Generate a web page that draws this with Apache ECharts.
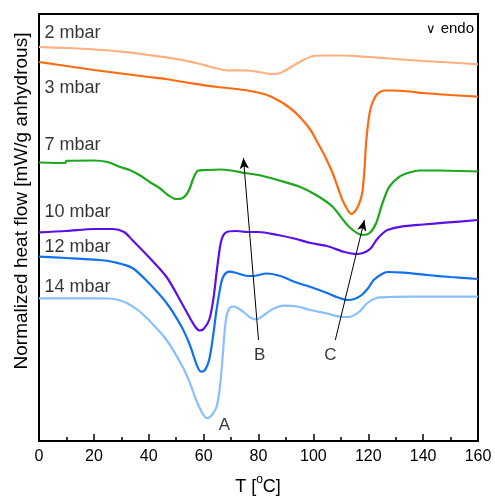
<!DOCTYPE html>
<html>
<head>
<meta charset="utf-8">
<script src="https://cdn.jsdelivr.net/npm/echarts@6/dist/echarts.min.js"></script>
<style>
  html, body { margin: 0; padding: 0; background: #fff; }
  #chart { width: 495px; height: 501px; }
</style>
</head>
<body>
<div id="chart"></div>
<script>
// temperature [°C] and heat flow (arbitrary units)
var t2 = [0, 10, 20, 30, 40, 51, 58, 64, 69, 72, 76, 80, 85, 88, 91, 95, 100, 105, 110, 120, 130, 140, 150, 160];
var h2 = [394, 393, 391.5, 389.3, 386, 381.7, 377.5, 373, 370.5, 370.7, 370.5, 369, 367, 368, 372.5, 379, 385, 385.5, 385.5, 384, 382, 380, 378.5, 376.7];

var t3 = [0, 5, 10, 20, 30, 40, 46, 55, 65, 75, 82, 87, 91, 95, 99, 101, 104, 107, 109, 110.6, 112.5, 113.8, 115, 116.5, 117.8, 118.6, 119.2, 120.2, 121, 122.5, 124, 126, 128, 135, 140, 150, 160];
var h3 = [379, 377, 375, 371, 367.5, 364, 362, 358, 354, 351, 347, 341, 334, 324.3, 311, 301, 286, 268, 253, 241, 231, 227, 229, 236, 248, 271, 298, 323, 334.3, 344, 348.7, 350.5, 350.5, 349.5, 348, 346, 344.3];

var t7 = [0, 9.6, 10, 20, 25, 29.3, 33, 36.6, 40.3, 43.9, 47, 50, 52, 53.6, 55, 56, 57, 57.8, 61, 66, 70, 75, 80, 87, 95, 101, 107, 113, 118, 120.5, 122.9, 125.2, 127.7, 131.4, 135, 138.7, 145, 160];
var h7 = [278.5, 278, 280.2, 280.5, 279, 274.3, 271, 266, 259, 253, 246, 242, 242.5, 246, 253, 261, 267, 270.3, 271, 271.5, 270.5, 268, 266, 261, 254.3, 246, 234.3, 214.3, 206, 208, 218, 238, 254.3, 264.3, 268.5, 270.5, 270.5, 269.5];

var t10 = [0, 10, 20, 27, 31, 34, 40, 46.5, 52, 55, 57, 58.5, 60, 62, 63.5, 64.7, 65.8, 66.5, 67.5, 69, 72, 76, 80, 87, 93, 99, 105, 111, 116, 119, 121, 123, 125, 127, 132, 140, 148, 160];
var h10 = [208.7, 210, 212, 212, 209, 201, 184, 164, 138, 123, 114, 110.5, 112, 121, 141, 168, 191, 201, 207, 209.5, 210, 209, 209, 206, 202.5, 198, 195, 189.3, 187, 189, 193, 201, 207, 211, 214.3, 216.5, 218.3, 221];

var t12 = [0, 10, 22, 27, 34, 40, 46.5, 52, 55, 57.5, 59, 60.5, 62, 63.5, 64.7, 66.4, 67.5, 69.4, 72, 76, 78, 83, 88, 93, 99, 105, 109, 112.5, 115, 117.6, 120, 122, 125, 127, 133, 141.6, 150, 160];
var h12 = [184.3, 183, 181, 179, 173, 158, 138, 114, 96, 76, 69.3, 71, 81, 106, 131, 158, 166, 169.3, 168, 165, 165, 167.5, 165, 159.3, 154, 148, 143.5, 141, 142, 146, 153, 161, 167, 169, 168.3, 166, 164, 162];

var t14 = [0, 10, 20, 25.7, 29, 32, 36, 40, 46.5, 52.4, 55, 57.3, 59.5, 61.3, 63, 64.7, 65.8, 66.7, 67.6, 68.3, 69.4, 71, 73, 75, 77, 79.2, 81, 83, 86, 89.5, 94, 99, 105, 111, 113, 115, 117, 119.7, 123, 128, 135.7, 160];
var h14 = [142.7, 142.7, 142.7, 142.5, 141, 138, 131, 121, 101, 74, 58, 41, 28, 22.7, 26, 34, 51, 76, 108, 124, 132.7, 134.5, 132, 128, 123.5, 121.5, 124, 128, 133, 135.3, 134.5, 131, 127.5, 124, 124, 126, 130, 138, 143, 144, 144.3, 144.3];

var seriesNames = ['2 mbar', '3 mbar', '7 mbar', '10 mbar', '12 mbar', '14 mbar'];
var seriesColors = ['#FFB080', '#FF6A10', '#1CA81C', '#5A10E8', '#1070F0', '#88C0FF'];
var seriesT = [t2, t3, t7, t10, t12, t14];
var seriesH = [h2, h3, h7, h10, h12, h14];
// where each pressure label sits [T, heat flow]
var labelPos = [[2, 408], [2, 353], [2, 296], [2, 229], [2, 194], [2, 154]];

// annotation arrows: [from, to] and letters
var arrowB = [[80, 101], [74.5, 283]];
var arrowC = [[108, 101], [118.6, 221]];
var letters = ['A', 'B', 'C'];
var letterPos = [[67.6, 16], [80.4, 86], [106.2, 86]];

var xTicks = [0, 20, 40, 60, 80, 100, 120, 140, 160];

var chart = echarts.init(document.getElementById('chart'));
var font = 'Liberation Sans, Arial, sans-serif';

function zip(a, b) {
    var out = [];
    for (var i = 0; i < a.length; i++) out.push([a[i], b[i]]);
    return out;
}

var series = seriesNames.map(function (name, i) {
    return {
        name: name,
        type: 'line',
        data: zip(seriesT[i], seriesH[i]),
        showSymbol: false,
        smooth: 0.3,
        lineStyle: { color: seriesColors[i], width: 2.2 },
        itemStyle: { color: seriesColors[i] },
        silent: true,
        z: 3
    };
});

series.push({
    name: 'arrows',
    type: 'line',
    data: [],
    silent: true,
    markLine: {
        silent: true,
        symbol: ['none', 'arrow'],
        symbolSize: [7, 11],
        label: { show: false },
        lineStyle: { color: '#000', width: 1, type: 'solid' },
        data: [
            [{ coord: arrowB[0] }, { coord: arrowB[1] }],
            [{ coord: arrowC[0] }, { coord: arrowC[1] }]
        ]
    }
});

series.push({
    name: 'letters',
    type: 'scatter',
    data: letterPos.map(function (p, i) { return { value: p, name: letters[i] }; }),
    symbolSize: 0,
    silent: true,
    label: {
        show: true,
        position: 'inside',
        formatter: '{b}',
        color: '#000',
        fontSize: 17,
        fontFamily: font
    }
});

series.push({
    name: 'pressures',
    type: 'scatter',
    data: labelPos.map(function (p, i) { return { value: p, name: seriesNames[i] }; }),
    symbolSize: 0,
    silent: true,
    label: {
        show: true,
        position: 'right',
        distance: 0,
        formatter: '{b}',
        color: '#000',
        fontSize: 18,
        fontFamily: font
    }
});

var option = {
    animation: false,
    backgroundColor: '#fff',
    grid: {
        left: 39, right: 17, top: 14, bottom: 60,
        show: true,
        borderColor: '#000',
        borderWidth: 2,
        backgroundColor: 'transparent'
    },
    xAxis: {
        type: 'value',
        min: 0,
        max: 160,
        interval: 20,
        axisLine: { show: true, lineStyle: { color: '#000', width: 2 } },
        axisTick: { show: true, inside: true, length: 7, lineStyle: { color: '#000', width: 1.5 } },
        minorTick: { show: true, splitNumber: 2, length: 4, lineStyle: { color: '#000', width: 1.5 } },
        splitLine: { show: false },
        axisLabel: {
            color: '#000',
            fontSize: 16,
            fontFamily: font,
            margin: 8,
            formatter: function (v) { return xTicks.indexOf(v) >= 0 ? String(v) : ''; }
        }
    },
    yAxis: {
        type: 'value',
        min: 0,
        max: 427,
        axisLine: { show: true, lineStyle: { color: '#000', width: 2 } },
        axisTick: { show: false },
        axisLabel: { show: false },
        splitLine: { show: false }
    },
    graphic: [
        {
            type: 'text',
            x: 258,
            y: 487,
            style: {
                text: '{n|T [}{s|o}{n|C]}',
                fill: '#000',
                align: 'center',
                verticalAlign: 'middle',
                rich: {
                    n: { fontSize: 18, fontFamily: font, lineHeight: 26, verticalAlign: 'middle', fill: '#000' },
                    s: { fontSize: 12, fontFamily: font, lineHeight: 12, verticalAlign: 'top', fill: '#000' }
                }
            }
        },
        {
            type: 'text',
            x: 22,
            y: 201,
            rotation: Math.PI / 2,
            style: {
                text: 'Normalized heat flow [mW/g anhydrous]',
                fill: '#000',
                font: '19px ' + font,
                align: 'center',
                verticalAlign: 'middle'
            }
        },
        {
            type: 'text',
            x: 474,
            y: 29,
            style: {
                text: '{v|\u2228} endo',
                fill: '#000',
                font: '15px ' + font,
                align: 'right',
                verticalAlign: 'middle',
                rich: { v: { fontSize: 13, fontFamily: font } }
            }
        }
    ],
    series: series
};

option && chart.setOption(option);
</script>
</body>
</html>
